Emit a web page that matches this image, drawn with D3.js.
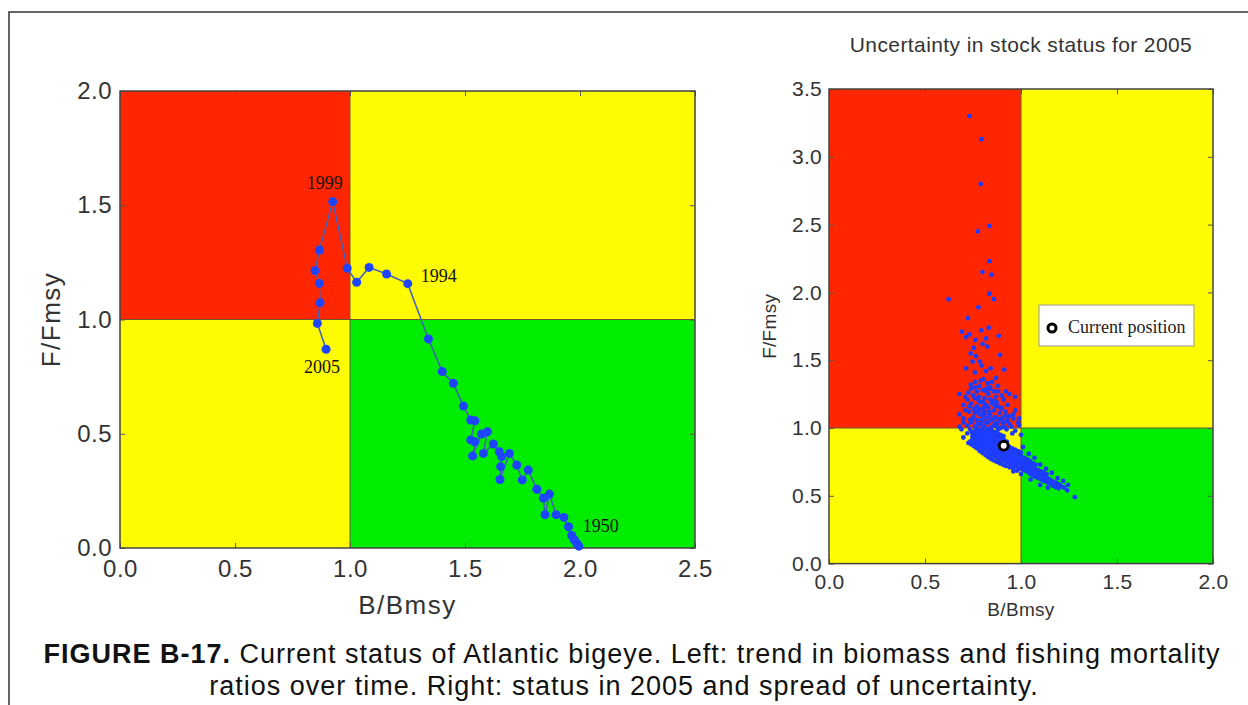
<!DOCTYPE html>
<html>
<head>
<meta charset="utf-8">
<script src="https://cdn.jsdelivr.net/npm/d3@7"></script>
<style>
  body { margin: 0; background: #fff; }
  text { font-family: "Liberation Sans", Arial, Helvetica, sans-serif; }
  .serif { font-family: "Liberation Serif", "Times New Roman", serif; }
</style>
</head>
<body>
<svg id="chart" width="1248" height="705"></svg>
<script>
// stock trajectory 1950 -> 2005
var trendB = [1.995,1.986,1.975,1.964,1.950,1.930,1.896,1.867,1.848,1.841,1.812,1.775,1.749,1.725,1.693,1.652,1.655,1.659,1.649,1.623,1.580,1.597,1.572,1.533,1.543,1.525,1.543,1.525,1.493,1.449,1.401,1.341,1.251,1.159,1.083,1.029,0.988,0.925,0.867,0.848,0.867,0.870,0.858,0.896];
var trendF = [0.008,0.020,0.036,0.055,0.093,0.134,0.146,0.236,0.146,0.218,0.257,0.341,0.298,0.363,0.414,0.300,0.356,0.400,0.421,0.455,0.414,0.509,0.499,0.403,0.465,0.473,0.557,0.560,0.621,0.721,0.772,0.915,1.157,1.199,1.228,1.163,1.224,1.516,1.304,1.214,1.158,1.073,0.983,0.870];
var yearLabels = ["1950","1994","1999","2005"];
var yearIndex = [0, 32, 37, 43];

// uncertainty cloud for 2005 [B/Bmsy, F/Fmsy]
var cloud = [
  [0.731,3.30],[0.795,3.13],[0.790,2.80],[0.835,2.49],[0.775,2.45],[0.835,2.23],[0.799,2.15],[0.847,2.13],
  [0.835,1.99],[0.859,1.95],[0.623,1.95],[0.778,1.89],[0.724,1.81],[0.832,1.74],[0.693,1.71],[0.793,1.72],
  [0.731,1.69],[0.884,1.68],[0.714,1.67],[0.762,1.65],[0.818,1.66],[0.755,1.59],[0.824,1.60],[0.800,1.62],
  [0.738,1.55],[0.891,1.54],[0.766,1.53],[0.786,1.49],[0.748,1.49],[0.714,1.44],[0.795,1.46],[0.842,1.44],
  [0.913,1.43],[0.760,1.41],[0.818,1.42],[0.804,1.36],[0.870,1.37],[0.738,1.32],[0.783,1.31],[0.825,1.33],
  [0.839,1.30],[0.922,1.27],[0.679,1.25],[0.726,1.26],[0.969,1.23],[0.760,1.22],[0.700,1.17],[0.873,1.19],
  [0.804,1.19],[0.900,1.15],[0.679,1.10],[0.960,1.07],[0.929,1.05],[0.734,1.06],[0.726,0.89],
  [0.76,1.34],[0.79,1.35],[0.82,1.29],[0.85,1.34],[0.88,1.31],[0.74,1.29],
  [0.77,1.27],[0.80,1.28],[0.83,1.25],[0.86,1.27],[0.90,1.24],[0.94,1.25],
  [0.72,1.21],[0.75,1.24],[0.78,1.23],[0.81,1.22],[0.84,1.21],[0.87,1.23],[0.91,1.21],
  [0.71,1.13],[0.74,1.18],[0.77,1.16],[0.79,1.19],[0.82,1.17],[0.85,1.18],[0.88,1.16],[0.93,1.17],
  [0.73,1.12],[0.76,1.11],[0.78,1.14],[0.81,1.12],[0.83,1.15],[0.86,1.13],[0.89,1.11],[0.92,1.12],[0.97,1.13],
  [0.70,1.07],[0.75,1.08],[0.77,1.06],[0.80,1.09],[0.82,1.07],[0.84,1.10],[0.87,1.08],[0.90,1.07],[0.94,1.09],[0.985,1.04],
  [0.72,1.02],[0.74,1.04],[0.76,1.01],[0.79,1.03],[0.81,1.01],[0.83,1.04],[0.86,1.02],[0.88,1.04],[0.91,1.01],[0.94,1.03],[0.99,1.02],
  [0.73,1.16],[0.755,1.14],[0.785,1.10],[0.805,1.15],[0.835,1.12],[0.865,1.16],[0.895,1.14],[0.915,1.09],
  [0.745,1.05],[0.775,1.03],[0.795,1.06],[0.815,1.04],[0.845,1.06],[0.875,1.01],[0.905,1.04],[0.925,0.99],
  [0.95,1.01],[0.735,0.99],[0.765,0.965],[0.80,1.13],[0.86,1.20],[0.78,1.20],[0.70,1.04],[0.68,1.01],
  [0.76,1.30],[0.82,1.27],[0.88,1.27],[0.84,1.29],[0.71,1.23],[0.97,0.98],[0.955,0.96],[0.835,1.09],
  [0.86,1.07],[0.89,1.065],[0.915,1.045],[0.81,1.10],[0.775,1.125],[0.92,1.00],[0.895,1.00],[0.80,1.00],
  [0.845,1.005],[0.865,1.035],[0.93,1.075],[0.96,1.10],[0.99,1.07],
  [0.745,0.91],[0.747,0.94],[0.743,0.97],
  [0.76,0.89],[0.762,0.92],[0.758,0.95],[0.761,0.98],
  [0.775,0.875],[0.777,0.905],[0.773,0.935],[0.776,0.965],[0.774,0.995],
  [0.79,0.86],[0.792,0.89],[0.788,0.92],[0.791,0.95],[0.789,0.98],
  [0.805,0.845],[0.807,0.875],[0.803,0.905],[0.806,0.935],[0.804,0.965],[0.806,0.995],
  [0.82,0.83],[0.822,0.86],[0.818,0.89],[0.821,0.92],[0.819,0.95],[0.821,0.98],
  [0.835,0.815],[0.837,0.845],[0.833,0.875],[0.836,0.905],[0.834,0.935],[0.836,0.965],[0.834,0.995],
  [0.85,0.80],[0.852,0.83],[0.848,0.86],[0.851,0.89],[0.849,0.92],[0.851,0.95],[0.849,0.98],
  [0.865,0.79],[0.867,0.82],[0.863,0.85],[0.866,0.88],[0.864,0.91],[0.866,0.94],[0.864,0.97],
  [0.88,0.78],[0.882,0.81],[0.878,0.84],[0.881,0.87],[0.879,0.90],[0.881,0.93],[0.879,0.96],[0.881,0.99],
  [0.895,0.77],[0.897,0.80],[0.893,0.83],[0.896,0.86],[0.894,0.89],[0.896,0.92],[0.894,0.95],
  [0.91,0.76],[0.912,0.79],[0.908,0.82],[0.911,0.85],[0.909,0.88],[0.911,0.91],[0.909,0.94],
  [0.925,0.75],[0.927,0.78],[0.923,0.81],[0.926,0.84],[0.924,0.87],[0.926,0.90],
  [0.94,0.74],[0.942,0.77],[0.938,0.80],[0.941,0.83],[0.939,0.86],
  [0.955,0.73],[0.957,0.76],[0.953,0.79],[0.956,0.82],[0.954,0.85],
  [0.97,0.72],[0.972,0.75],[0.968,0.78],[0.971,0.81],[0.969,0.84],
  [0.985,0.71],[0.987,0.74],[0.983,0.77],[0.986,0.80],[0.984,0.83],
  [1.00,0.70],[1.002,0.73],[0.998,0.76],[1.001,0.79],[0.999,0.82],
  [1.015,0.69],[1.017,0.72],[1.013,0.75],[1.016,0.78],
  [1.03,0.68],[1.032,0.71],[1.028,0.74],[1.031,0.77],
  [1.045,0.665],[1.047,0.695],[1.043,0.725],[1.046,0.755],
  [1.06,0.65],[1.062,0.68],[1.058,0.71],[1.061,0.74],
  [1.075,0.64],[1.077,0.67],[1.073,0.70],[1.076,0.73],
  [1.09,0.63],[1.092,0.66],[1.088,0.69],
  [1.105,0.62],[1.107,0.65],[1.103,0.68],
  [1.12,0.61],[1.122,0.64],[1.118,0.67],
  [1.135,0.60],[1.137,0.63],[1.133,0.66],
  [1.15,0.59],[1.152,0.62],
  [1.165,0.575],[1.167,0.605],
  [1.18,0.565],[1.182,0.595],
  [1.195,0.555],[1.197,0.585],
  [1.21,0.57],[1.225,0.56],
  [0.80,0.815],[0.815,0.80],[0.83,0.785],[0.845,0.77],[0.86,0.76],[0.875,0.75],[0.89,0.74],[0.905,0.73],
  [0.92,0.72],[0.94,0.71],[0.96,0.70],[0.98,0.685],[0.785,0.83],[0.77,0.85],[0.755,0.865],[0.74,0.88],
  [0.70,0.93],[0.72,0.96],[0.735,0.90],[0.69,0.99],[1.00,0.95],[1.01,0.86],[1.04,0.81],[1.07,0.78],
  [1.10,0.73],[1.13,0.70],[1.16,0.67],[1.19,0.63],[1.22,0.61],[1.245,0.58],[1.28,0.49],[1.24,0.54],
  [0.96,0.68],[1.00,0.66],[1.05,0.62],[1.10,0.58],[1.14,0.56]
];
var currentB = 0.91, currentF = 0.87;

var leftXTicks = [0, 0.5, 1.0, 1.5, 2.0, 2.5];
var leftYTicks = [0, 0.5, 1.0, 1.5, 2.0];
var rightXTicks = [0, 0.5, 1.0, 1.5, 2.0];
var rightYTicks = [0, 0.5, 1.0, 1.5, 2.0, 2.5, 3.0, 3.5];

var RED = "#ff2600", YELLOW = "#fffb00", GREEN = "#00ec00";

var svg = d3.select("#chart");

// frame around the figure
svg.append("path")
  .attr("d", "M9,705V12H1248")
  .attr("fill", "none")
  .attr("stroke", "#333")
  .attr("stroke-width", 1.5);

function drawPanel(opt) {
  var x = opt.x, y = opt.y;
  var xmax = x.domain()[1], ymax = y.domain()[1];
  var g = svg.append("g");

  var zones = [
    {b0: 0, b1: 1, f0: 1, f1: ymax, c: RED},
    {b0: 1, b1: xmax, f0: 1, f1: ymax, c: YELLOW},
    {b0: 0, b1: 1, f0: 0, f1: 1, c: YELLOW},
    {b0: 1, b1: xmax, f0: 0, f1: 1, c: GREEN}
  ];
  g.selectAll("rect.zone").data(zones).enter().append("rect")
    .attr("class", "zone")
    .attr("x", function(d){ return x(d.b0); })
    .attr("y", function(d){ return y(d.f1); })
    .attr("width", function(d){ return x(d.b1) - x(d.b0); })
    .attr("height", function(d){ return y(d.f0) - y(d.f1); })
    .attr("fill", function(d){ return d.c; });

  g.append("line").attr("x1", x(1)).attr("x2", x(1)).attr("y1", y(0)).attr("y2", y(ymax))
    .attr("stroke", "#6a5a30").attr("stroke-width", 1);
  g.append("line").attr("x1", x(0)).attr("x2", x(xmax)).attr("y1", y(1)).attr("y2", y(1))
    .attr("stroke", "#6a5a30").attr("stroke-width", 1);

  var h = y(0), w = x(0);
  var ax = [
    g.append("g").attr("transform", "translate(0," + h + ")")
      .call(d3.axisBottom(x).tickValues(opt.xticks).tickSize(-5).tickPadding(opt.padX).tickFormat(d3.format(".1f"))),
    g.append("g").attr("transform", "translate(" + w + ",0)")
      .call(d3.axisLeft(y).tickValues(opt.yticks).tickSize(-5).tickPadding(opt.padY).tickFormat(d3.format(".1f"))),
    g.append("g").attr("transform", "translate(0," + y(ymax) + ")")
      .call(d3.axisTop(x).tickValues(opt.xticks).tickSize(-5).tickFormat("")),
    g.append("g").attr("transform", "translate(" + x(xmax) + ",0)")
      .call(d3.axisRight(y).tickValues(opt.yticks).tickSize(-5).tickFormat(""))
  ];
  ax.forEach(function(a){
    a.select(".domain").remove();
    a.selectAll("line").attr("stroke", "#555");
    a.selectAll("text").attr("fill", "#333").style("font-size", opt.tickFont + "px")
      .style("font-family", '"Liberation Sans", Arial, sans-serif')
      .style("letter-spacing", opt.tickSpacing + "px");
  });

  g.append("rect")
    .attr("x", x(0)).attr("y", y(ymax))
    .attr("width", x(xmax) - x(0)).attr("height", y(0) - y(ymax))
    .attr("fill", "none").attr("stroke", "#444").attr("stroke-width", 1.5);

  g.append("text")
    .attr("x", (x(0) + x(xmax)) / 2).attr("y", opt.xTitleY)
    .attr("text-anchor", "middle").attr("fill", "#333")
    .style("font-size", opt.titleFont + "px").style("letter-spacing", opt.titleSpacing + "px")
    .text("B/Bmsy");
  g.append("text")
    .attr("transform", "translate(" + opt.yTitleX + "," + (y(0) + y(ymax)) / 2 + ") rotate(-90)")
    .attr("text-anchor", "middle").attr("fill", "#333")
    .style("font-size", opt.titleFont + "px").style("letter-spacing", opt.titleSpacing + "px")
    .text("F/Fmsy");
  return g;
}

// ---- left panel: trajectory
var xL = d3.scaleLinear().domain([0, 2.5]).range([120, 695]);
var yL = d3.scaleLinear().domain([0, 2]).range([548, 91]);
var gL = drawPanel({x: xL, y: yL, xticks: leftXTicks, yticks: leftYTicks,
  padX: 12, padY: 8, tickFont: 24, tickSpacing: 0.5, titleFont: 26, titleSpacing: 1.5,
  xTitleY: 614, yTitleX: 60});

var trend = trendB.map(function(b, i){ return [b, trendF[i]]; });
gL.append("path")
  .datum(trend)
  .attr("d", d3.line().x(function(d){ return xL(d[0]); }).y(function(d){ return yL(d[1]); }))
  .attr("fill", "none").attr("stroke", "#3f5fc0").attr("stroke-width", 1.5);
gL.selectAll("circle.pt").data(trend).enter().append("circle")
  .attr("class", "pt")
  .attr("cx", function(d){ return xL(d[0]); })
  .attr("cy", function(d){ return yL(d[1]); })
  .attr("r", 4.5).attr("fill", "#1d45ff");

var labelOffsets = [[22, -20], [31, -8], [-8, -19], [-4, 18]];
yearLabels.forEach(function(lab, i){
  var d = trend[yearIndex[i]];
  gL.append("text").attr("class", "serif")
    .attr("x", xL(d[0]) + labelOffsets[i][0])
    .attr("y", yL(d[1]) + labelOffsets[i][1])
    .attr("text-anchor", "middle").attr("dominant-baseline", "central")
    .attr("fill", "#111").style("font-size", "18px").text(lab);
});

// ---- right panel: uncertainty
var xR = d3.scaleLinear().domain([0, 2]).range([829, 1213]);
var yR = d3.scaleLinear().domain([0, 3.5]).range([563.6, 89]);
var gR = drawPanel({x: xR, y: yR, xticks: rightXTicks, yticks: rightYTicks,
  padX: 10, padY: 7, tickFont: 21, tickSpacing: 0.3, titleFont: 19, titleSpacing: 0.3,
  xTitleY: 616, yTitleX: 776});

gR.insert("g", "rect:last-of-type")
  .selectAll("circle").data(cloud).enter().append("circle")
  .attr("cx", function(d){ return xR(d[0]); })
  .attr("cy", function(d){ return yR(d[1]); })
  .attr("r", 2.4).attr("fill", "#1e3cff");

gR.append("circle")
  .attr("cx", xR(currentB)).attr("cy", yR(currentF))
  .attr("r", 4.5).attr("fill", "#fff").attr("stroke", "#000").attr("stroke-width", 3);

// legend
var leg = gR.append("g").attr("transform", "translate(1039,305)");
leg.append("rect").attr("width", 155).attr("height", 41)
  .attr("fill", "#fff").attr("stroke", "#999").attr("stroke-width", 1);
leg.append("circle").attr("cx", 13).attr("cy", 23).attr("r", 4)
  .attr("fill", "#fff").attr("stroke", "#000").attr("stroke-width", 3);
leg.append("text").attr("class", "serif").attr("x", 29).attr("y", 28)
  .attr("fill", "#222").style("font-size", "18px").text("Current position");

svg.append("text")
  .attr("x", 1021).attr("y", 52).attr("text-anchor", "middle").attr("fill", "#333")
  .style("font-size", "21px").style("letter-spacing", "0.4px")
  .text("Uncertainty in stock status for 2005");

// caption
var cap = svg.append("text").attr("x", 632).attr("y", 663).attr("text-anchor", "middle")
  .attr("fill", "#111").style("font-size", "27px").style("letter-spacing", "1px");
cap.append("tspan").style("font-weight", "bold").text("FIGURE B-17.");
cap.append("tspan").text(" Current status of Atlantic bigeye. Left: trend in biomass and fishing mortality");
svg.append("text").attr("x", 624).attr("y", 695).attr("text-anchor", "middle")
  .attr("fill", "#111").style("font-size", "27px").style("letter-spacing", "1px")
  .text("ratios over time. Right: status in 2005 and spread of uncertainty.");
</script>
</body>
</html>
